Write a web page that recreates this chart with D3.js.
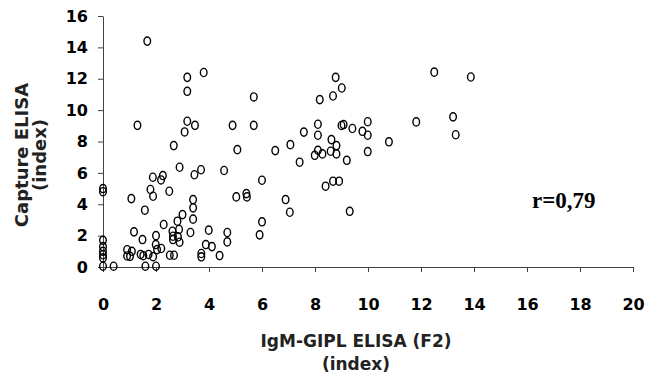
<!DOCTYPE html>
<html>
<head>
<meta charset="utf-8">
<script src="https://cdn.jsdelivr.net/npm/d3@7"></script>
<style>
  body { margin: 0; background: #fff; }
  svg { display: block; }
  .tick text { font-family: "DejaVu Sans", sans-serif; font-weight: bold; fill: #000; }
  .title { font-family: "DejaVu Sans", sans-serif; font-weight: bold; fill: #222; }
</style>
</head>
<body>
<div id="chart"></div>
<script>
// IgM-GIPL ELISA (F2) index, one entry per serum
const igmGipl = [
  0, 0, 0, 0, 0, 0, 0, 0, 0.4, 1.6, 2.0,
  0.91, 0.91, 1.09, 1.02, 1.42, 1.52, 1.72, 1.89, 2.04, 2.2, 2.52, 2.68,
  1.17, 1.49, 2.0, 1.99, 2.29, 2.62, 2.64, 2.87, 2.83, 2.64, 2.89, 3.3,
  3.0, 2.81, 3.4, 3.4, 3.4, 1.58, 1.07, 1.79, 1.89, 2.5, 1.88, 2.26, 2.19,
  2.89, 3.45, 3.7, 4.57, 2.67, 3.99, 4.69, 4.69, 3.88, 4.11, 4.4, 3.71, 3.71,
  5.91, 6.0, 5.03, 5.41, 5.43, 6.0, 6.89, 7.05, 5.07, 6.5,
  3.08, 3.18, 3.47, 4.89, 5.69, 1.3, 3.18, 3.18, 3.8, 5.69, 1.67,
  7.07, 7.42, 7.58, 8.11, 8.11, 8.62, 8.81, 8.11, 7.99, 8.28, 8.59, 8.81, 9.2,
  9.0, 9.08, 9.41, 9.79, 9.99, 9.99, 9.99, 10.79, 8.18, 8.68, 9.01, 8.78,
  8.4, 8.68, 8.91, 9.31, 11.82, 12.5, 13.88, 13.21, 13.31
];
// Capture ELISA index, same order
const capture = [
  5.0, 4.8, 1.7, 1.3, 1.0, 0.78, 0.58, 0.05, 0.05, 0.05, 0.05,
  1.1, 0.7, 1.0, 0.68, 0.8, 0.72, 0.8, 0.66, 1.11, 1.18, 0.75, 0.75,
  2.24, 1.75, 2.0, 1.43, 2.71, 2.28, 1.96, 2.39, 1.92, 1.75, 1.58, 2.2,
  3.34, 2.92, 4.3, 3.77, 3.05, 3.62, 4.36, 4.94, 4.51, 4.83, 5.72, 5.83, 5.55,
  6.36, 5.88, 6.2, 6.15, 7.74, 2.35, 2.2, 1.6, 1.43, 1.3, 0.73, 0.86, 0.65,
  2.05, 2.88, 4.47, 4.68, 4.47, 5.53, 4.3, 3.49, 7.48, 7.42,
  8.61, 9.29, 9.03, 9.03, 9.03, 9.03, 11.2, 12.09, 12.4, 10.84, 14.4,
  7.8, 6.68, 8.6, 9.1, 8.4, 8.12, 7.74, 7.44, 7.12, 7.21, 7.38, 7.21, 6.8,
  9.02, 9.08, 8.83, 8.65, 9.26, 8.4, 7.36, 7.98, 10.67, 10.9, 11.41, 12.09,
  5.15, 5.47, 5.47, 3.55, 9.25, 12.42, 12.11, 9.57, 8.43
];
const xTicks = [0, 2, 4, 6, 8, 10, 12, 14, 16, 18, 20];
const yTicks = [0, 2, 4, 6, 8, 10, 12, 14, 16];
const xTitle = ["IgM-GIPL ELISA (F2)", "(index)"];
const yTitle = ["Capture ELISA", "(index)"];
const rLabel = "r=0,79";

const width = 651, height = 381;
const margin = { top: 16, right: 18, bottom: 114, left: 103 };

const svg = d3.select("#chart").append("svg")
  .attr("width", width)
  .attr("height", height);

const x = d3.scaleLinear()
  .domain([0, 20])
  .range([margin.left, width - margin.right]);
const y = d3.scaleLinear()
  .domain([0, 16])
  .range([height - margin.bottom, margin.top]);

const xAxis = svg.append("g")
  .attr("transform", "translate(0," + y(0) + ")")
  .call(d3.axisBottom(x).tickValues(xTicks).tickSize(5).tickPadding(27).tickSizeOuter(0));
xAxis.selectAll(".tick text").style("font-size", "16px");

const yAxis = svg.append("g")
  .attr("transform", "translate(" + x(0) + ",0)")
  .call(d3.axisLeft(y).tickValues(yTicks).tickSize(5).tickPadding(10).tickSizeOuter(0));
yAxis.selectAll(".tick text").style("font-size", "16px");

svg.selectAll(".domain, .tick line").attr("stroke", "#444");

svg.append("g")
  .selectAll("ellipse")
  .data(d3.range(igmGipl.length))
  .join("ellipse")
  .attr("cx", i => x(igmGipl[i]))
  .attr("cy", i => y(capture[i]))
  .attr("rx", 3.3)
  .attr("ry", 4.1)
  .attr("fill", "none")
  .attr("stroke", "#000")
  .attr("stroke-width", 1.4);

svg.append("text")
  .attr("class", "title")
  .attr("text-anchor", "middle")
  .style("font-size", "17px")
  .selectAll("tspan")
  .data(xTitle)
  .join("tspan")
  .attr("x", 356)
  .attr("y", (d, i) => 347 + i * 23)
  .text(d => d);

svg.append("text")
  .attr("class", "title")
  .attr("text-anchor", "middle")
  .attr("transform", "rotate(-90)")
  .style("font-size", "18px")
  .selectAll("tspan")
  .data(yTitle)
  .join("tspan")
  .attr("x", -155)
  .attr("y", (d, i) => 28 + i * 18)
  .text(d => d);

svg.append("text")
  .attr("x", 532)
  .attr("y", 208)
  .style("font-family", "'Liberation Serif', serif")
  .style("font-weight", "bold")
  .style("font-size", "23px")
  .text(rLabel);
</script>
</body>
</html>
